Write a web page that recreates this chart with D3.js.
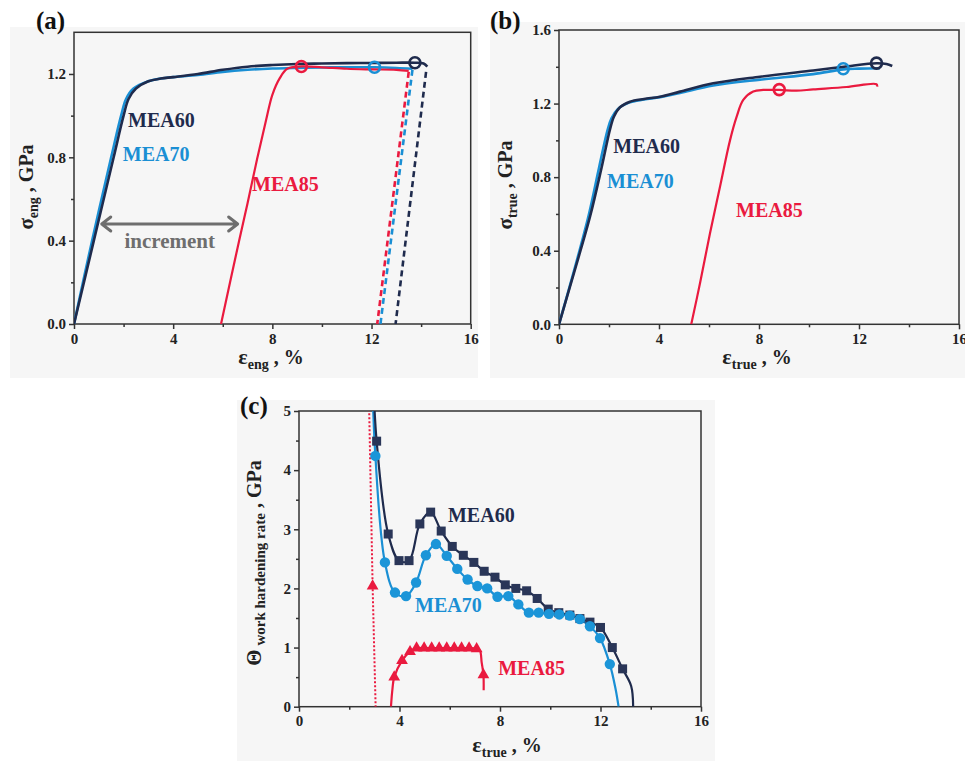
<!DOCTYPE html>
<html>
<head>
<meta charset="utf-8">
<script src="https://cdn.jsdelivr.net/npm/d3@7/dist/d3.min.js"></script>
<style>
  body { margin: 0; background: #fff; }
</style>
</head>
<body>
<script>
// colours
var navy = "#1f2b4d", blue = "#1a8fd4", red = "#ea1a3f", grey = "#6e6e6e";

// ---- data, panel (a): engineering stress (GPa) vs engineering strain (%)
var eng60Strain = [0, 0.8, 1.6, 2.0, 2.2, 2.5, 3.0, 3.5, 4.0, 5.0, 6.0, 7.0, 8.0, 9.0, 10, 11, 12, 13, 13.75, 14.1, 14.25];
var eng60Stress = [0, 0.40, 0.80, 1.00, 1.08, 1.13, 1.165, 1.178, 1.185, 1.20, 1.22, 1.235, 1.243, 1.248, 1.25, 1.252, 1.253, 1.254, 1.254, 1.25, 1.235];
var eng70Strain = [0, 0.73, 1.5, 1.9, 2.1, 2.4, 3.0, 3.5, 4.0, 5.0, 6.0, 7.0, 8.0, 9.0, 10, 11, 12.1, 13, 13.65];
var eng70Stress = [0, 0.40, 0.80, 1.00, 1.08, 1.13, 1.165, 1.178, 1.185, 1.195, 1.21, 1.22, 1.226, 1.229, 1.231, 1.232, 1.232, 1.229, 1.225];
var eng85Strain = [5.93, 6.66, 7.0, 7.4, 7.75, 8.0, 8.3, 8.6, 9.17, 10, 11, 12, 13, 13.5];
var eng85Stress = [0, 0.40, 0.58, 0.80, 0.98, 1.10, 1.18, 1.225, 1.236, 1.232, 1.225, 1.222, 1.22, 1.215];
// unloading (dashed) lines: [top strain, top stress, bottom strain]
var engUnload60 = [14.2, 1.21, 12.97];
var engUnload70 = [13.65, 1.22, 12.36];
var engUnload85 = [13.5, 1.21, 12.23];
// open circles
var engCircleStrain = [13.75, 12.12, 9.17];
var engCircleStress = [1.254, 1.232, 1.236];
// increment arrow
var incrementFrom = 1.12, incrementTo = 6.6, incrementLevel = 0.48;

// ---- data, panel (b): true stress vs true strain
var true60Strain = [0, 0.6, 1.24, 1.7, 2.04, 2.2, 2.44, 2.84, 3.4, 4.04, 4.84, 6.17, 8.04, 10.17, 11.4, 12.7, 13.1, 13.33];
var true60Stress = [0, 0.28, 0.585, 0.85, 1.06, 1.13, 1.18, 1.21, 1.225, 1.237, 1.265, 1.31, 1.346, 1.38, 1.40, 1.419, 1.415, 1.404];
var true70Strain = [0, 0.6, 1.2, 1.6, 1.95, 2.1, 2.35, 2.8, 3.4, 4.04, 4.84, 6.17, 8.04, 10.17, 11.37, 12.0, 12.84];
var true70Stress = [0, 0.29, 0.60, 0.85, 1.06, 1.12, 1.17, 1.205, 1.222, 1.235, 1.258, 1.298, 1.33, 1.36, 1.386, 1.39, 1.392];
var true85Strain = [5.29, 5.64, 6.04, 6.44, 6.84, 7.11, 7.37, 7.77, 8.17, 8.81, 9.5, 10.17, 11.5, 12.7, 12.73];
var true85Stress = [0, 0.223, 0.495, 0.748, 1.0, 1.13, 1.22, 1.265, 1.274, 1.274, 1.27, 1.277, 1.29, 1.305, 1.292];
var trueCircleStrain = [12.7, 11.37, 8.81];
var trueCircleStress = [1.42, 1.389, 1.276];

// ---- data, panel (c): work hardening rate (GPa) vs true strain (%)
var hard60Strain = [3.09, 3.55, 3.98, 4.38, 4.81, 5.24, 5.66, 6.10, 6.54, 6.96, 7.37, 7.80, 8.21, 8.63, 9.06, 9.48, 9.92, 10.34, 10.78, 11.18, 11.58, 12.0, 12.47, 12.88];
var hard60Theta  = [4.49, 2.92, 2.47, 2.47, 3.09, 3.29, 2.97, 2.71, 2.56, 2.44, 2.29, 2.19, 2.06, 2.00, 1.96, 1.83, 1.65, 1.59, 1.55, 1.49, 1.43, 1.34, 1.00, 0.64];
var hard60Head = [2.95, 5.6], hard60Tail = [[13.22, 0.35], [13.3, 0]];
var hard70Strain = [3.04, 3.42, 3.82, 4.26, 4.66, 5.05, 5.45, 5.88, 6.30, 6.71, 7.10, 7.49, 7.90, 8.33, 8.73, 9.15, 9.54, 9.95, 10.36, 10.78, 11.18, 11.58, 11.98, 12.37];
var hard70Theta  = [4.24, 2.44, 1.93, 1.87, 2.10, 2.56, 2.75, 2.55, 2.33, 2.15, 2.04, 2.00, 1.86, 1.87, 1.73, 1.59, 1.59, 1.57, 1.56, 1.54, 1.48, 1.36, 1.16, 0.72];
var hard70Head = [2.91, 5.6], hard70Tail = [[12.6, 0.3], [12.72, 0]];
var hard85LineStrain = [3.66, 3.72, 3.79, 4.10, 4.42, 4.68, 4.98, 5.28, 5.58, 5.88, 6.18, 6.47, 6.77, 7.07, 7.2, 7.27, 7.34, 7.35];
var hard85LineTheta  = [0, 0.3, 0.50, 0.78, 0.93, 0.99, 0.99, 0.99, 0.99, 0.99, 0.99, 0.99, 0.99, 0.98, 0.95, 0.75, 0.54, 0.28];
var hard85MarkStrain = [3.79, 4.10, 4.42, 4.68, 4.98, 5.28, 5.58, 5.88, 6.18, 6.47, 6.77, 7.07, 7.34];
var hard85MarkTheta  = [0.50, 0.78, 0.93, 0.99, 0.99, 0.99, 0.99, 0.99, 0.99, 0.99, 0.99, 0.98, 0.54];
// dotted elastic line of MEA85 and its marker
var hard85DotStrain = [2.78, 2.93, 3.05];
var hard85DotTheta  = [5.3, 2.04, 0];

// tick labels
var strainTicks = [0, 4, 8, 12, 16];
var strainMinor = [2, 6, 10, 14];
var engTicks = [0, 0.4, 0.8, 1.2];
var engMinor = [0.2, 0.6, 1.0];
var trueTicks = [0, 0.4, 0.8, 1.2, 1.6];
var trueMinor = [0.2, 0.6, 1.0, 1.4];
var hardTicks = [0, 1, 2, 3, 4, 5];
var hardMinor = [0.5, 1.5, 2.5, 3.5, 4.5];

var svg = d3.select("body").append("svg")
  .attr("width", 965)
  .attr("height", 761);

function zip(a, b) { return a.map(function(d, i) { return [d, b[i]]; }); }

function makePanel(p) {
  var g = svg.append("g");
  g.append("rect")
    .attr("x", p.bg[0]).attr("y", p.bg[1])
    .attr("width", p.bg[2]).attr("height", p.bg[3])
    .attr("fill", "#f6f6f6");

  var x = d3.scaleLinear().domain([0, 16]).range([p.left, p.right]);
  var y = d3.scaleLinear().domain(p.yDomain).range([p.bottom, p.top]);

  svg.append("clipPath").attr("id", "clip-" + p.name)
    .append("rect")
    .attr("x", p.left).attr("y", p.top)
    .attr("width", p.right - p.left).attr("height", p.bottom - p.top);

  // minor ticks
  g.append("g").attr("class", "ax")
    .attr("transform", `translate(0, ${p.bottom})`)
    .call(d3.axisBottom(x).tickValues(strainMinor).tickSize(3).tickFormat(""));
  g.append("g").attr("class", "ax")
    .attr("transform", `translate(${p.left}, 0)`)
    .call(d3.axisLeft(y).tickValues(p.yMinor).tickSize(3).tickFormat(""));
  // major ticks
  g.append("g").attr("class", "ax")
    .attr("transform", `translate(0, ${p.bottom})`)
    .call(d3.axisBottom(x).tickValues(strainTicks).tickSize(5).tickPadding(4).tickFormat(d3.format("d")));
  g.append("g").attr("class", "ax")
    .attr("transform", `translate(${p.left}, 0)`)
    .call(d3.axisLeft(y).tickValues(p.yTicks).tickSize(5).tickPadding(3).tickFormat(d3.format(p.yFormat)));

  g.selectAll(".ax .domain").remove();
  g.selectAll(".ax line").attr("stroke", "#333").attr("stroke-width", 1.5);
  g.selectAll(".ax text").style("font-size", "15px").attr("fill", "#222");

  g.append("rect")
    .attr("x", p.left).attr("y", p.top)
    .attr("width", p.right - p.left).attr("height", p.bottom - p.top)
    .attr("fill", "none").attr("stroke", "#333").attr("stroke-width", 1.5);

  var plot = g.append("g").attr("clip-path", `url(#clip-${p.name})`);
  return { g: g, x: x, y: y, plot: plot };
}

function curve(panel, pts, color, width, dash) {
  var line = d3.line()
    .x(function(d) { return panel.x(d[0]); })
    .y(function(d) { return panel.y(d[1]); })
    .curve(dash ? d3.curveLinear : d3.curveCatmullRom.alpha(0.5));
  panel.plot.append("path")
    .datum(pts)
    .attr("d", line)
    .attr("fill", "none")
    .attr("stroke", color)
    .attr("stroke-width", width)
    .attr("stroke-dasharray", dash || null)
    .attr("stroke-linejoin", "round");
}

function label(panel, text, xv, yv, color) {
  panel.g.append("text")
    .attr("x", panel.x(xv)).attr("y", panel.y(yv))
    .style("font-size", "20px").attr("fill", color)
    .text(text);
}

function openCircles(panel, xs, ys, colors) {
  panel.g.selectAll(null)
    .data(zip(xs, ys))
    .enter().append("circle")
    .attr("cx", function(d) { return panel.x(d[0]); })
    .attr("cy", function(d) { return panel.y(d[1]); })
    .attr("r", 5.5)
    .attr("fill", "none")
    .attr("stroke", function(d, i) { return colors[i]; })
    .attr("stroke-width", 2.6);
}

// axis title with subscript; rotated when vertical
function axisTitle(cx, cy, main, sub, rest, rotate, mainSize, subSize) {
  var t = svg.append("text")
    .attr("transform", `translate(${cx}, ${cy})` + (rotate ? " rotate(-90)" : ""))
    .attr("text-anchor", "middle")
    .attr("fill", "#222");
  t.append("tspan").style("font-size", mainSize + "px").text(main);
  t.append("tspan").style("font-size", subSize + "px").attr("dy", 5).text(sub);
  t.append("tspan").style("font-size", "20px").attr("dy", -5).text(rest);
}

function panelLetter(x, y, s) {
  svg.append("text").attr("x", x).attr("y", y)
    .style("font-size", "25px").attr("fill", "#111").text(s);
}

// ================= panel (a)
var pa = makePanel({
  name: "a", bg: [10, 27, 468, 351],
  left: 74, right: 470.7, top: 32.3, bottom: 324,
  yDomain: [0, 1.4], yTicks: engTicks, yMinor: engMinor, yFormat: ".1f"
});
curve(pa, zip(eng70Strain, eng70Stress), blue, 2.6);
curve(pa, zip(eng60Strain, eng60Stress), navy, 2.6);
curve(pa, zip(eng85Strain, eng85Stress), red, 2.2);
[[engUnload60, navy], [engUnload70, blue], [engUnload85, red]].forEach(function(u) {
  var d = u[0];
  curve(pa, [[d[0], d[1]], [d[2], 0]], u[1], 2.6, "6,4");
});
openCircles(pa, engCircleStrain, engCircleStress, [navy, blue, red]);

// increment arrow
var ay = pa.y(incrementLevel), ax0 = pa.x(incrementFrom), ax1 = pa.x(incrementTo);
pa.g.append("path")
  .attr("d", `M${ax0},${ay}L${ax1},${ay}M${ax0 + 9},${ay - 7}L${ax0},${ay}L${ax0 + 9},${ay + 7}` +
             `M${ax1 - 9},${ay - 7}L${ax1},${ay}L${ax1 - 9},${ay + 7}`)
  .attr("fill", "none").attr("stroke", grey).attr("stroke-width", 3)
  .attr("stroke-linecap", "round").attr("stroke-linejoin", "round");
pa.g.append("text")
  .attr("x", (ax0 + ax1) / 2).attr("y", ay + 24)
  .attr("text-anchor", "middle").style("font-size", "21px").attr("fill", grey)
  .text("increment");

label(pa, "MEA60", 2.18, 0.946, navy);
label(pa, "MEA70", 1.97, 0.78, blue);
label(pa, "MEA85", 7.18, 0.64, red);
axisTitle(33, 187, "σ", "eng", " , GPa", true, 21, 14);
axisTitle(271, 364, "ε", "eng", " ,  %", false, 22, 14);
panelLetter(36, 29, "(a)");

// ================= panel (b)
var pb = makePanel({
  name: "b", bg: [490, 22, 475, 356],
  left: 559, right: 959, top: 30, bottom: 324.3,
  yDomain: [0, 1.6], yTicks: trueTicks, yMinor: trueMinor, yFormat: ".1f"
});
curve(pb, zip(true70Strain, true70Stress), blue, 2.6);
curve(pb, zip(true60Strain, true60Stress), navy, 2.6);
curve(pb, zip(true85Strain, true85Stress), red, 2.2);
openCircles(pb, trueCircleStrain, trueCircleStress, [navy, blue, red]);
label(pb, "MEA60", 2.17, 0.933, navy);
label(pb, "MEA70", 1.92, 0.742, blue);
label(pb, "MEA85", 7.08, 0.584, red);
axisTitle(512, 185, "σ", "true", " , GPa", true, 21, 14);
axisTitle(757, 364, "ε", "true", " ,  %", false, 22, 14);
panelLetter(490, 29, "(b)");

// ================= panel (c)
var pc = makePanel({
  name: "c", bg: [237, 400, 478, 361],
  left: 299, right: 701, top: 411, bottom: 706.7,
  yDomain: [0, 5], yTicks: hardTicks, yMinor: hardMinor, yFormat: "d"
});

curve(pc, zip(hard85DotStrain, hard85DotTheta), red, 2, "2,2");
curve(pc, [hard70Head].concat(zip(hard70Strain, hard70Theta), hard70Tail), blue, 2.2);
curve(pc, [hard60Head].concat(zip(hard60Strain, hard60Theta), hard60Tail), navy, 2.2);
curve(pc, zip(hard85LineStrain, hard85LineTheta), red, 2.2);

pc.g.selectAll(null)
  .data(zip(hard60Strain, hard60Theta))
  .enter().append("rect")
  .attr("x", function(d) { return pc.x(d[0]) - 4.5; })
  .attr("y", function(d) { return pc.y(d[1]) - 4.5; })
  .attr("width", 9).attr("height", 9)
  .attr("fill", "#2a3658");

pc.g.selectAll(null)
  .data(zip(hard70Strain, hard70Theta))
  .enter().append("circle")
  .attr("cx", function(d) { return pc.x(d[0]); })
  .attr("cy", function(d) { return pc.y(d[1]); })
  .attr("r", 5.2)
  .attr("fill", "#1b95d8");

var tri = d3.symbol().type(d3.symbolTriangle).size(60);
pc.g.selectAll(null)
  .data(zip(hard85MarkStrain, hard85MarkTheta).concat([[hard85DotStrain[1], hard85DotTheta[1]]]))
  .enter().append("path")
  .attr("d", tri)
  .attr("transform", function(d) { return `translate(${pc.x(d[0])}, ${pc.y(d[1])})`; })
  .attr("fill", red);

label(pc, "MEA60", 5.93, 3.13, navy);
label(pc, "MEA70", 4.62, 1.60, blue);
label(pc, "MEA85", 7.93, 0.54, red);

// rotated title for (c): Θ with long subscript
var tc = svg.append("text")
  .attr("transform", "translate(261, 563) rotate(-90)")
  .attr("text-anchor", "middle").attr("fill", "#222");
tc.append("tspan").style("font-size", "21px").text("Θ");
tc.append("tspan").style("font-size", "15px").attr("dy", 4).text(" work hardening rate");
tc.append("tspan").style("font-size", "20px").attr("dy", -4).text(" , GPa");

axisTitle(507, 752, "ε", "true", " ,  %", false, 22, 14);
panelLetter(240, 414, "(c)");

// Times-like bold everywhere
svg.selectAll("text")
  .style("font-family", "'Liberation Serif'")
  .style("font-weight", "bold");
</script>
</body>
</html>
